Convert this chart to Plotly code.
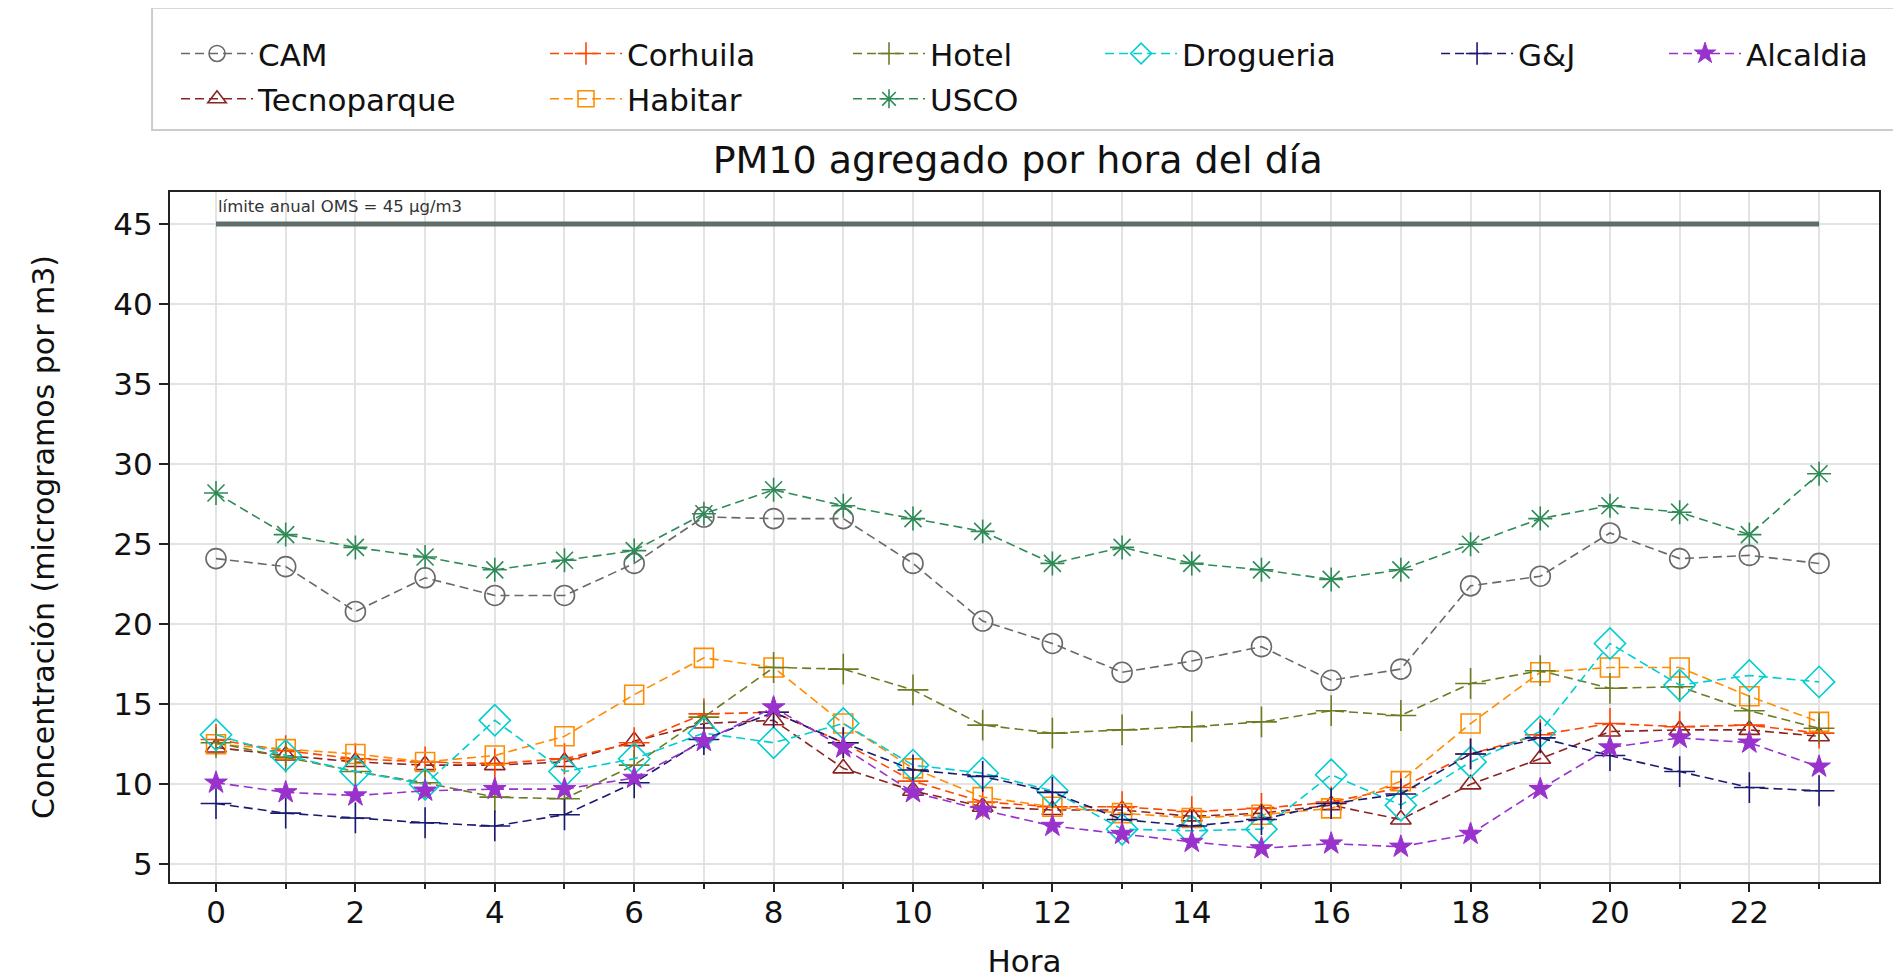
import plotly.graph_objects as go

# Datos: promedio de PM10 por hora del dia para cada estacion
horas = list(range(24))

cam = [24.1, 23.6, 20.8, 22.9, 21.8, 21.8, 23.8, 26.7, 26.6, 26.6, 23.8, 20.2,
       18.8, 17.0, 17.7, 18.6, 16.5, 17.2, 22.4, 23.0, 25.7, 24.1, 24.3, 23.8]
tecnoparque = [12.3, 11.8, 11.4, 11.2, 11.2, 11.4, 12.7, 13.8, 14.0, 11.0, 9.6, 8.6,
               8.4, 8.4, 8.0, 8.2, 8.7, 7.8, 10.0, 11.6, 13.3, 13.4, 13.4, 13.0]
corhuila = [12.8, 12.1, 11.6, 11.4, 11.3, 11.6, 12.6, 14.4, 14.5, 12.6, 10.2, 8.9,
            8.6, 8.6, 8.3, 8.5, 8.9, 9.8, 11.9, 13.1, 13.8, 13.6, 13.7, 13.2]
habitar = [12.5, 12.2, 11.9, 11.4, 11.8, 13.0, 15.6, 17.9, 17.3, 13.8, 11.0, 9.2,
           8.6, 8.2, 7.9, 8.1, 8.5, 10.2, 13.8, 17.0, 17.3, 17.3, 15.5, 13.9]
hotel = [12.6, 11.7, 10.8, 10.1, 9.2, 9.1, 11.2, 14.2, 17.3, 17.2, 15.9, 13.7,
         13.2, 13.4, 13.6, 13.9, 14.6, 14.3, 16.3, 17.1, 16.0, 16.1, 14.6, 13.5]
usco = [28.2, 25.6, 24.8, 24.2, 23.4, 24.0, 24.6, 26.9, 28.4, 27.4, 26.6, 25.8,
        23.8, 24.8, 23.8, 23.4, 22.8, 23.4, 25.0, 26.6, 27.4, 27.0, 25.6, 29.4]
drogueria = [13.1, 11.8, 10.8, 10.0, 14.0, 10.8, 11.6, 13.2, 12.6, 13.8, 11.2, 10.7,
             9.6, 7.2, 7.1, 7.2, 10.6, 8.7, 11.4, 13.3, 18.8, 16.2, 16.8, 16.4]
gj = [8.8, 8.2, 7.9, 7.6, 7.4, 8.1, 10.1, 12.8, 14.5, 12.6, 10.9, 10.5,
      9.5, 7.8, 7.4, 7.8, 8.8, 9.4, 11.9, 12.9, 11.8, 10.8, 9.8, 9.6]
alcaldia = [10.1, 9.5, 9.3, 9.6, 9.7, 9.7, 10.4, 12.7, 14.8, 12.3, 9.5, 8.4,
            7.4, 6.9, 6.4, 6.0, 6.3, 6.1, 6.9, 9.7, 12.3, 12.9, 12.6, 11.1]

limite_oms = 45
limite_x = [0, 23]

FUENTE = "DejaVu Sans"

# nombre, datos, color, simbolo, tamaño, leyenda (columna)
series = [
    ("CAM", cam, "#696969", "circle-open", 20, "legend"),
    ("Tecnoparque", tecnoparque, "#8b2323", "triangle-up-open", 18, "legend"),
    ("Corhuila", corhuila, "#ff4500", "cross-thin-open", 22, "legend2"),
    ("Habitar", habitar, "#ff8c00", "square-open", 19, "legend2"),
    ("Hotel", hotel, "#6b7d23", "cross-thin-open", 22, "legend3"),
    ("USCO", usco, "#2e8b57", "asterisk-open", 20, "legend3"),
    ("Drogueria", drogueria, "#00ced1", "diamond-open", 24, "legend4"),
    ("G&J", gj, "#191970", "cross-thin-open", 22, "legend5"),
    ("Alcaldia", alcaldia, "#9932cc", "star", 17, "legend6"),
]

fig = go.Figure()

# Linea del limite anual OMS
fig.add_trace(go.Scatter(
    x=limite_x, y=[limite_oms] * len(limite_x),
    mode="lines",
    line=dict(color="#5f6e6b", width=5),
    showlegend=False,
    hoverinfo="skip"
))

for nombre, datos, color, simbolo, tam, leg in series:
    fig.add_trace(go.Scatter(
        x=horas, y=datos,
        name=nombre,
        legendgroup=nombre,
        mode="lines+markers",
        line=dict(color=color, width=1.6, dash="9px,5px"),
        marker=dict(symbol=simbolo, size=tam, color=color,
                    line=dict(color=color, width=1.6 if simbolo != "star" else 1)),
        legend=leg
    ))

# Texto del limite OMS
fig.add_annotation(
    x=0, y=46.1, xref="x", yref="y",
    text="límite anual OMS = 45 µg/m3",
    showarrow=False, xanchor="left", yanchor="middle",
    font=dict(size=16.5, color="#333333", family=FUENTE)
)

# Leyendas por columna (estilo matplotlib ncol=6)
ANCHO_ITEM = 72

def leyenda(xpos):
    return dict(
        x=xpos, y=1.2394, xanchor="left", yanchor="top",
        orientation="v",
        bgcolor="rgba(0,0,0,0)",
        font=dict(size=31, family=FUENTE, color="#111111"),
        itemwidth=ANCHO_ITEM,
        traceorder="grouped",
        tracegroupgap=2
    )

# posicion del texto de cada columna, corregida por el ancho del simbolo
cols_x = [c - (ANCHO_ITEM - 30) / 1709 for c in [0.0281, 0.2440, 0.4213, 0.5688, 0.7654, 0.8988]]

# Marco de la leyenda
fig.add_shape(
    type="rect", xref="paper", yref="paper",
    x0=-0.0105, x1=1.0088, y0=1.0897, y1=1.267,
    line=dict(color="#cccccc", width=2),
    fillcolor="rgba(255,255,255,0)"
)

fig.update_layout(
    width=1901, height=977,
    margin=dict(l=162, r=30, t=184, b=94),
    paper_bgcolor="white",
    plot_bgcolor="white",
    font=dict(family=FUENTE, size=30, color="#111111"),
    title=dict(
        text="PM10 agregado por hora del día",
        x=0.496, xref="paper", xanchor="center",
        y=1 - 152 / 977, yref="container", yanchor="middle",
        font=dict(size=38, family=FUENTE, color="#111111")
    ),
    legend=leyenda(cols_x[0]),
    legend2=leyenda(cols_x[1]),
    legend3=leyenda(cols_x[2]),
    legend4=leyenda(cols_x[3]),
    legend5=leyenda(cols_x[4]),
    legend6=leyenda(cols_x[5]),
    xaxis=dict(
        title=dict(text="Hora", font=dict(size=31), standoff=21),
        range=[-0.66, 23.86],
        tick0=0, dtick=2,
        ticks="outside", ticklen=8, tickwidth=2, tickcolor="#222222",
        ticklabelstandoff=-6,
        tickfont=dict(size=31),
        showline=True, mirror=True, linecolor="#222222", linewidth=2,
        showgrid=True, gridcolor="#e3e3e3", gridwidth=1.5,
        zeroline=False,
        minor=dict(dtick=1, tick0=0, ticks="outside", ticklen=5,
                   tickcolor="#222222", showgrid=True,
                   gridcolor="#e3e3e3", gridwidth=1.5)
    ),
    yaxis=dict(
        title=dict(text="Concentración (microgramos por m3)", font=dict(size=30), standoff=50),
        range=[3.9, 47.0],
        tick0=5, dtick=5,
        ticks="outside", ticklen=9, tickwidth=2, tickcolor="#222222",
        tickfont=dict(size=31),
        showline=True, mirror=True, linecolor="#222222", linewidth=2,
        showgrid=True, gridcolor="#e3e3e3", gridwidth=1.5,
        zeroline=False
    ),
    showlegend=True
)

fig.write_html("out.html")
